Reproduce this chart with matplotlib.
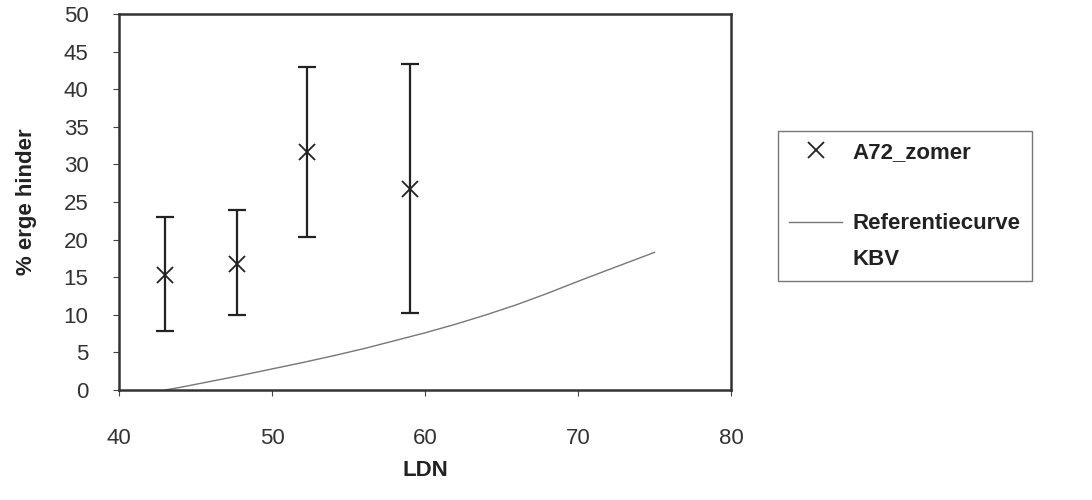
import matplotlib
matplotlib.use('Agg')
import matplotlib.pyplot as plt
from matplotlib.lines import Line2D

# A72 zomer measurements
ldn_pts = [43.0, 47.7, 52.3, 59.0]
hinder_pts = [15.3, 16.8, 31.6, 26.7]
err_low = [7.8, 10.0, 20.4, 10.3]
err_high = [23.0, 24.0, 42.9, 43.4]

# reference curve KBV
ref_ldn = [43, 44, 45, 46, 47, 48, 50, 52, 54, 56, 58, 60, 62, 64, 66, 68, 70, 72, 75]
ref_hinder = [0.0, 0.35, 0.75, 1.15, 1.55, 1.95, 2.8, 3.65, 4.55, 5.5, 6.55, 7.6,
              8.75, 10.0, 11.35, 12.85, 14.45, 16.0, 18.3]

plt.rcParams['font.family'] = ['Liberation Sans', 'DejaVu Sans']

fig = plt.figure(figsize=(10.92, 5.0), dpi=100)
ax = fig.add_axes([119/1092, 1 - 390/500, (731-119)/1092, (390-14)/500])

yerr = [[h - lo for h, lo in zip(hinder_pts, err_low)],
        [hi - h for h, hi in zip(hinder_pts, err_high)]]
ax.errorbar(ldn_pts, hinder_pts, yerr=yerr, fmt='none', ecolor='#222222',
            elinewidth=1.6, capsize=6.5, capthick=1.6)
ax.plot(ldn_pts, hinder_pts, 'x', color='#222222', markersize=11, mew=1.3)
ax.plot(ref_ldn, ref_hinder, color='#777777', lw=1.0)

ax.set_xlim(40, 80)
ax.set_ylim(0, 50)
ax.set_xticks(range(40, 81, 10))
ax.set_yticks(range(0, 51, 5))
ax.tick_params(axis='x', direction='out', length=4, pad=23, labelsize=16,
               colors='#444444', labelcolor='#333333')
ax.tick_params(axis='y', direction='out', length=4, pad=18, labelsize=16,
               colors='#444444', labelcolor='#333333')
for s in ax.spines.values():
    s.set_linewidth(1.8)
    s.set_color('#333333')

ax.set_xlabel('LDN', fontsize=16, fontweight='bold', labelpad=8, color='#222222')
ax.set_ylabel('% erge hinder', fontsize=16, fontweight='bold', labelpad=19, color='#222222')

blank = Line2D([], [], ls='none')
handles = [Line2D([], [], marker='x', ls='none', color='#222222', markersize=11, mew=1.3),
           blank,
           Line2D([], [], color='#777777', lw=1.0),
           blank]
labels = ['A72_zomer', ' ', 'Referentiecurve', 'KBV']
leg = fig.legend(handles, labels, loc='upper left',
                 bbox_to_anchor=(778/1092, 1 - 131/500), borderaxespad=0,
                 prop={'size': 16, 'weight': 'bold'}, frameon=True, fancybox=False,
                 edgecolor='#555555', handlelength=2.4, labelspacing=0.66,
                 borderpad=0.5, handletextpad=0.45)
leg.get_frame().set_linewidth(1.0)
for t in leg.get_texts():
    t.set_color('#222222')

fig.savefig('out.png', dpi=100, facecolor='white')
